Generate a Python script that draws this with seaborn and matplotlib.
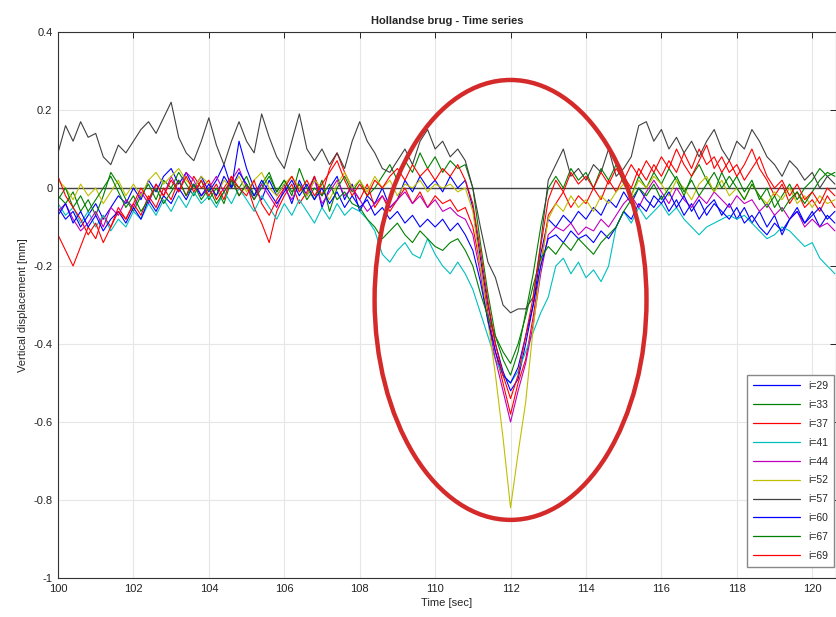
import numpy as np
import pandas as pd
import matplotlib
matplotlib.use('Agg')
import matplotlib.pyplot as plt
from matplotlib.patches import Ellipse
from matplotlib.ticker import FuncFormatter
import seaborn as sns

# sample times [sec], one sample every 0.2 s
time = np.round(np.arange(100.0, 120.61, 0.2), 1)

labels = ['i=29', 'i=33', 'i=37', 'i=41', 'i=44', 'i=52', 'i=57', 'i=60', 'i=67', 'i=69']

# vertical displacement [mm]
i29 = [-0.05, -0.08, -0.06, -0.10, -0.07, -0.04, -0.08, -0.05, -0.02, -0.04,
       0.00, -0.03, 0.02, -0.01, 0.03, 0.05, 0.01, 0.04, 0.00, 0.03,
       -0.01, 0.02, 0.06, 0.00, 0.12, 0.05, 0.00, -0.03, 0.02, -0.02,
       0.01, -0.04, 0.02, -0.02, 0.03, -0.05, 0.00, 0.03, -0.03, 0.01,
       -0.06, -0.02, -0.04, 0.00, -0.05, -0.03, 0.02, -0.01, 0.03, 0.00,
       0.02, -0.01, 0.03, 0.00, 0.02, -0.05, -0.18, -0.30, -0.40, -0.47,
       -0.52, -0.49, -0.40, -0.30, -0.17, -0.08, -0.10, -0.07, -0.09, -0.06,
       -0.08, -0.05, -0.07, -0.03, -0.05, -0.01, -0.04, 0.00, -0.03, -0.05,
       -0.02, -0.06, -0.03, -0.07, -0.04, -0.08, -0.05, -0.03, -0.07, -0.04,
       -0.08, -0.05, -0.09, -0.06, -0.10, -0.07, -0.12, -0.08, -0.05, -0.09,
       -0.06, -0.10, -0.07, -0.09]
i33 = [-0.02, -0.04, -0.01, -0.06, -0.03, -0.07, -0.02, 0.04, 0.01, -0.03,
       -0.06, -0.02, 0.01, -0.03, 0.02, 0.00, 0.04, 0.01, -0.02, 0.02,
       -0.03, 0.00, -0.04, 0.02, 0.00, 0.03, -0.02, 0.01, 0.04, -0.01,
       0.02, -0.02, 0.05, 0.00, -0.03, 0.02, -0.06, 0.00, 0.03, -0.01,
       0.02, -0.02, 0.00, 0.03, 0.06, 0.02, 0.07, 0.04, 0.09, 0.05,
       0.08, 0.04, 0.07, 0.05, 0.06, 0.00, -0.14, -0.27, -0.38, -0.44,
       -0.48, -0.42, -0.32, -0.22, -0.10, 0.00, 0.03, 0.00, 0.05, 0.02,
       0.04, 0.00, 0.05, 0.02, 0.06, 0.01, -0.02, 0.03, 0.00, 0.04,
       0.01, 0.05, 0.02, -0.02, 0.03, 0.06, 0.02, -0.01, 0.04, 0.00,
       0.03, -0.01, 0.02, -0.03, 0.00, -0.05, -0.02, 0.01, -0.03, 0.00,
       0.02, 0.05, 0.03, 0.04]
i37 = [-0.12, -0.16, -0.20, -0.15, -0.10, -0.13, -0.07, -0.10, -0.05, -0.08,
       -0.04, -0.07, -0.02, -0.05, 0.00, -0.03, 0.02, -0.02, 0.03, 0.00,
       0.02, -0.03, 0.00, 0.03, -0.02, 0.01, -0.05, -0.09, -0.14, -0.06,
       -0.02, 0.01, -0.04, -0.01, 0.03, -0.02, 0.05, 0.09, 0.04, 0.00,
       -0.03, 0.01, -0.05, -0.02, -0.06, -0.03, 0.00, -0.04, -0.01, -0.05,
       -0.02, -0.04, -0.03, -0.06, -0.05, -0.10, -0.20, -0.32, -0.42, -0.50,
       -0.58, -0.50, -0.44, -0.33, -0.20, -0.07, -0.04, -0.01, -0.05, -0.02,
       -0.04, 0.00, -0.03, 0.02, -0.01, 0.03, 0.00, 0.05, 0.02, 0.06,
       0.03, 0.07, 0.04, 0.09, 0.05, 0.10, 0.06, 0.08, 0.04, 0.07,
       0.03, 0.06, 0.10, 0.05, 0.02, -0.02, 0.01, -0.04, -0.01, -0.05,
       -0.03, -0.06, -0.02, -0.05]
i41 = [-0.04, -0.07, -0.05, -0.09, -0.06, -0.10, -0.07, -0.11, -0.08, -0.10,
       -0.06, -0.08, -0.04, -0.07, -0.03, -0.06, -0.02, -0.05, -0.01, -0.04,
       -0.02, -0.05, -0.01, -0.04, 0.00, -0.03, -0.06, -0.02, -0.05, -0.08,
       -0.04, -0.07, -0.03, -0.06, -0.09, -0.05, -0.08, -0.04, -0.07, -0.05,
       -0.06, -0.08, -0.11, -0.17, -0.19, -0.16, -0.14, -0.17, -0.18, -0.13,
       -0.17, -0.20, -0.22, -0.19, -0.22, -0.26, -0.32, -0.38, -0.44, -0.48,
       -0.50, -0.47, -0.42, -0.37, -0.32, -0.28, -0.20, -0.18, -0.22, -0.19,
       -0.23, -0.21, -0.24, -0.20, -0.10, -0.06, -0.09, -0.05, -0.08, -0.06,
       -0.04, -0.07, -0.05, -0.08, -0.10, -0.12, -0.10, -0.09, -0.08, -0.07,
       -0.08, -0.07, -0.09, -0.11, -0.13, -0.12, -0.10, -0.11, -0.13, -0.15,
       -0.14, -0.18, -0.20, -0.22]
i44 = [-0.06, -0.04, -0.08, -0.11, -0.09, -0.06, -0.10, -0.05, -0.07, -0.03,
       -0.05, -0.01, -0.04, 0.01, -0.02, 0.03, -0.01, 0.04, 0.02, -0.02,
       0.00, 0.03, -0.01, 0.02, 0.05, 0.00, -0.03, 0.01, -0.02, -0.05,
       0.00, -0.03, 0.01, -0.02, 0.02, -0.04, -0.01, 0.02, -0.02, 0.00,
       -0.03, -0.06, -0.04, -0.02, -0.05, -0.03, -0.01, -0.04, -0.02, -0.05,
       -0.03, -0.06, -0.05, -0.07, -0.08, -0.12, -0.22, -0.34, -0.44, -0.52,
       -0.60, -0.52, -0.45, -0.35, -0.22, -0.12, -0.10, -0.11, -0.09, -0.12,
       -0.10, -0.11, -0.08, -0.10, -0.07, -0.04, -0.02, -0.05, -0.01, 0.02,
       -0.01, -0.04, 0.00, -0.03, -0.05, -0.02, -0.04, -0.01, -0.03, -0.05,
       -0.02, -0.04, -0.03, -0.06, -0.04, -0.07, -0.05, -0.08, -0.06, -0.10,
       -0.08, -0.10, -0.09, -0.11]
i52 = [0.02, 0.00, -0.03, 0.01, -0.02, 0.00, -0.04, -0.01, 0.02, -0.02,
       0.01, -0.02, 0.02, 0.04, 0.01, 0.03, 0.05, 0.02, 0.00, 0.03,
       0.01, -0.02, 0.02, 0.00, 0.03, -0.01, 0.02, 0.04, 0.00, -0.02,
       0.01, 0.03, 0.00, -0.02, 0.02, 0.00, -0.03, 0.01, 0.04, 0.00,
       0.02, -0.01, 0.03, 0.00, 0.02, -0.02, 0.01, 0.00, 0.02, -0.01,
       0.01, 0.00, 0.01, -0.01, 0.00, -0.06, -0.20, -0.34, -0.48, -0.64,
       -0.82, -0.68, -0.55, -0.36, -0.20, -0.08, -0.04, -0.06, -0.02, -0.05,
       -0.03, -0.06, -0.02, -0.04, -0.01, 0.01, -0.02, 0.02, 0.00, 0.03,
       0.01, -0.02, 0.02, 0.00, -0.03, 0.01, 0.03, -0.01, 0.02, -0.02,
       0.00, -0.03, 0.01, -0.02, -0.04, -0.01, -0.03, 0.00, -0.04, -0.02,
       -0.05, -0.02, -0.04, -0.03]
i57 = [0.09, 0.16, 0.12, 0.17, 0.13, 0.14, 0.08, 0.06, 0.11, 0.09,
       0.12, 0.15, 0.17, 0.14, 0.18, 0.22, 0.13, 0.09, 0.07, 0.12,
       0.18, 0.11, 0.06, 0.12, 0.17, 0.12, 0.09, 0.19, 0.13, 0.08,
       0.05, 0.12, 0.19, 0.10, 0.07, 0.10, 0.06, 0.09, 0.05, 0.12,
       0.17, 0.12, 0.09, 0.05, 0.04, 0.07, 0.10, 0.06, 0.12, 0.15,
       0.10, 0.12, 0.08, 0.10, 0.07, 0.00, -0.10, -0.19, -0.23, -0.30,
       -0.32, -0.31, -0.31, -0.28, -0.14, 0.02, 0.06, 0.10, 0.03, 0.05,
       0.02, 0.06, 0.04, 0.10, 0.03, 0.05, 0.08, 0.16, 0.17, 0.12,
       0.15, 0.10, 0.13, 0.09, 0.12, 0.08, 0.12, 0.15, 0.10, 0.07,
       0.12, 0.10, 0.15, 0.12, 0.08, 0.06, 0.03, 0.07, 0.05, 0.02,
       0.04, 0.00, 0.03, 0.01]
i60 = [-0.07, -0.04, -0.09, -0.06, -0.10, -0.07, -0.11, -0.08, -0.06, -0.09,
       -0.05, -0.08, -0.03, -0.06, -0.02, -0.04, 0.00, -0.03, 0.01, -0.02,
       0.01, -0.02, 0.03, 0.00, 0.04, 0.01, -0.02, 0.02, -0.01, -0.04,
       -0.01, 0.02, -0.02, 0.01, -0.03, 0.00, -0.04, -0.01, -0.05, -0.02,
       -0.05, -0.03, -0.07, -0.05, -0.08, -0.06, -0.09, -0.07, -0.10, -0.08,
       -0.10, -0.08, -0.11, -0.09, -0.12, -0.16, -0.24, -0.34, -0.42, -0.48,
       -0.50, -0.46, -0.38, -0.30, -0.20, -0.13, -0.12, -0.14, -0.11, -0.13,
       -0.12, -0.14, -0.11, -0.13, -0.10, -0.06, -0.08, -0.04, -0.06, -0.02,
       -0.04, -0.01, -0.05, -0.02, -0.06, -0.03, -0.07, -0.04, -0.06, -0.08,
       -0.05, -0.09, -0.07, -0.10, -0.12, -0.09, -0.11, -0.08, -0.06, -0.09,
       -0.07, -0.05, -0.08, -0.06]
i67 = [-0.03, 0.00, -0.05, -0.02, -0.06, -0.03, 0.00, 0.03, -0.01, -0.05,
       -0.02, -0.06, -0.03, 0.00, -0.04, -0.01, 0.02, -0.02, 0.01, -0.03,
       0.00, -0.04, -0.01, 0.02, -0.02, 0.01, -0.03, 0.00, 0.03, -0.01,
       0.02, -0.01, 0.01, -0.03, 0.00, -0.02, 0.01, -0.03, -0.01, -0.04,
       -0.05, -0.08, -0.10, -0.13, -0.11, -0.09, -0.12, -0.14, -0.11, -0.13,
       -0.15, -0.16, -0.14, -0.13, -0.16, -0.20, -0.27, -0.33, -0.38, -0.42,
       -0.45, -0.40, -0.33, -0.25, -0.18, -0.15, -0.17, -0.14, -0.16, -0.13,
       -0.15, -0.17, -0.14, -0.12, -0.10, -0.06, -0.03, 0.00, -0.02, 0.01,
       -0.03, 0.00, 0.03, -0.01, 0.02, -0.02, 0.01, 0.04, 0.00, 0.03,
       0.00, -0.03, 0.01, -0.02, -0.05, -0.02, -0.06, -0.03, -0.01, -0.04,
       -0.01, 0.02, 0.04, 0.03]
i69 = [0.03, -0.02, -0.05, -0.08, -0.12, -0.09, -0.14, -0.10, -0.06, -0.08,
       -0.04, 0.00, -0.03, 0.01, -0.02, 0.02, -0.01, 0.03, -0.01, 0.02,
       -0.02, 0.01, -0.03, 0.03, 0.00, -0.02, 0.02, -0.04, -0.07, -0.03,
       0.00, 0.03, -0.01, 0.02, -0.02, 0.01, 0.04, 0.07, 0.02, -0.02,
       0.01, -0.02, 0.02, 0.00, 0.03, 0.05, 0.02, 0.06, 0.03, 0.05,
       0.02, 0.05, 0.03, 0.06, 0.02, -0.04, -0.16, -0.29, -0.40, -0.48,
       -0.54, -0.48, -0.38, -0.28, -0.15, -0.03, 0.02, -0.01, 0.04, 0.01,
       0.03, 0.00, 0.04, 0.01, 0.05, 0.02, 0.06, 0.03, 0.07, 0.04,
       0.08, 0.05, 0.10, 0.06, 0.03, 0.07, 0.11, 0.05, 0.08, 0.04,
       0.06, 0.02, 0.05, 0.08, 0.03, 0.00, 0.02, -0.02, 0.01, -0.03,
       -0.01, -0.04, 0.00, -0.02]

# old matlab colour order, repeats after 7
colors = [(0, 0, 1), (0, 0.5, 0), (1, 0, 0), (0, 0.75, 0.75), (0.75, 0, 0.75),
          (0.75, 0.75, 0), (0.25, 0.25, 0.25), (0, 0, 1), (0, 0.5, 0), (1, 0, 0)]

series = [i29, i33, i37, i41, i44, i52, i57, i60, i67, i69]
df = pd.concat([pd.DataFrame({'Time': time, 'Disp': s, 'Sensor': lab})
                for s, lab in zip(series, labels)], ignore_index=True)

sns.set_style('white')
plt.rcParams['font.family'] = ['Liberation Sans', 'DejaVu Sans']
plt.rcParams['axes.unicode_minus'] = False

fig = plt.figure(figsize=(8.37, 6.17), dpi=100)
ax = fig.add_axes([58/837, 39/617, 778/837, 546/617])

sns.lineplot(data=df, x='Time', y='Disp', hue='Sensor', palette=colors,
             estimator=None, sort=False, lw=0.8, ax=ax)
ax.axhline(0, color='#444444', lw=1.0, zorder=1.5)

# the event marked on the original
ax.add_patch(Ellipse((112.0, -0.287), width=7.21, height=1.128, fill=False,
                     edgecolor='#d42a2a', lw=3.2, zorder=5))

ax.set_xlim(100, 120.63)
ax.set_ylim(-1, 0.4)
ax.set_xticks(np.arange(100, 121, 2))
ax.set_yticks(np.round(np.arange(-1, 0.41, 0.2), 1))
ax.yaxis.set_major_formatter(FuncFormatter(lambda v, p: '%g' % (round(v, 1) + 0.0)))
ax.grid(True, color='#e6e6e6', lw=0.8)
ax.tick_params(direction='in', length=4, width=0.7, top=True, right=True,
               labelsize=8, pad=4, colors='#222222')
for sp in ax.spines.values():
    sp.set_color('#333333')
    sp.set_linewidth(0.8)

ax.set_xlabel('Time [sec]', fontsize=8, labelpad=3)
ax.set_ylabel('Vertical displacement [mm]', fontsize=8, labelpad=4)
ax.set_title('Hollandse brug - Time series', fontsize=8, fontweight='bold', pad=6)

handles, labs = ax.get_legend_handles_labels()
for h, c in zip(handles, colors):
    h.set_color(c)
    h.set_linewidth(0.9)
ax.legend(handles, labs, loc='lower right', bbox_to_anchor=(0.998, 0.02),
          fontsize=7.5, handlelength=4.5, labelspacing=0.85, borderaxespad=0.0,
          fancybox=False, framealpha=1, edgecolor='#888888', borderpad=0.6)

fig.savefig('out.png', dpi=100)
